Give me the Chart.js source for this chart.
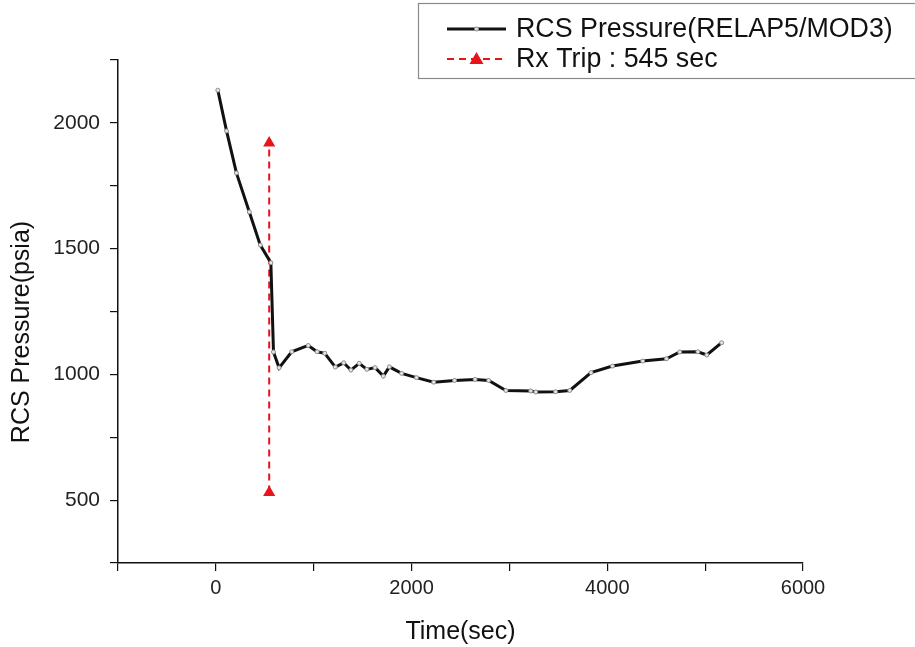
<!DOCTYPE html>
<html>
<head>
<meta charset="utf-8">
<script src="https://cdn.jsdelivr.net/npm/chart.js@4/dist/chart.umd.min.js"></script>
<style>
html,body{margin:0;padding:0;background:#fff;}
#wrap{width:915px;height:647px;position:relative;}
</style>
</head>
<body>
<div id="wrap"><canvas id="c" width="915" height="647"></canvas></div>
<script>
// Data
const timeSec = [20, 109, 210, 342, 454, 562, 589, 646, 775, 944, 1035, 1113, 1221, 1306, 1380, 1465, 1543, 1627, 1712, 1773, 1898, 2050, 2226, 2439, 2649, 2788, 2964, 3218, 3269, 3472, 3617, 3834, 4053, 4362, 4605, 4740, 4926, 5017, 5169];
const pressurePsia = [2130, 1968, 1801, 1646, 1514, 1444, 1089, 1026, 1090, 1115, 1090, 1084, 1029, 1046, 1017, 1044, 1020, 1027, 993, 1030, 1004, 987, 969, 976, 980, 976, 936, 934, 930, 931, 936, 1007, 1033, 1053, 1062, 1089, 1090, 1077, 1126];
const tripTime = [545, 545];
const tripPressure = [530, 1920];
const seriesLabels = ["RCS Pressure(RELAP5/MOD3)", "Rx Trip : 545 sec"];
const xTickLabels = [0, 2000, 4000, 6000];
const yTickLabels = [500, 1000, 1500, 2000];
const xTitle = 'Time(sec)';
const yTitle = 'RCS Pressure(psia)';

const FONT = '"Liberation Sans", Arial, sans-serif';

const rcsData = timeSec.map((t, i) => ({x: t, y: pressurePsia[i]}));
const tripData = tripTime.map((t, i) => ({x: t, y: tripPressure[i]}));

const legendPlugin = {
  id: 'boxLegend',
  afterDraw(chart) {
    const ctx = chart.ctx;
    const ds = chart.data.datasets;
    ctx.save();
    // y-axis title
    ctx.fillStyle = '#111';
    ctx.font = '25px ' + FONT;
    ctx.textAlign = 'center';
    ctx.textBaseline = 'middle';
    ctx.translate(22, 332);
    ctx.rotate(-Math.PI / 2);
    ctx.fillText(yTitle, 0, 0);
    ctx.restore();

    ctx.save();
    ctx.fillStyle = '#fff';
    ctx.fillRect(418, 3, 520, 75);
    ctx.strokeStyle = '#8a8a8a';
    ctx.lineWidth = 1.2;
    ctx.strokeRect(418.5, 3.5, 520, 75);
    const rows = [29, 59];
    rows.forEach((cy, i) => {
      const d = ds[i];
      ctx.strokeStyle = d.borderColor;
      ctx.lineWidth = d.borderWidth;
      ctx.setLineDash(d.borderDash || []);
      ctx.beginPath();
      ctx.moveTo(447, cy);
      ctx.lineTo(506, cy);
      ctx.stroke();
      ctx.setLineDash([]);
      if (i === 0) {
        ctx.fillStyle = d.pointBackgroundColor;
        ctx.strokeStyle = d.pointBorderColor;
        ctx.lineWidth = 1;
        ctx.beginPath();
        ctx.arc(476.5, cy, 2, 0, Math.PI * 2);
        ctx.fill(); ctx.stroke();
      } else {
        ctx.fillStyle = d.pointBackgroundColor;
        ctx.beginPath();
        ctx.moveTo(476.5, cy - 7);
        ctx.lineTo(483.5, cy + 5);
        ctx.lineTo(469.5, cy + 5);
        ctx.closePath();
        ctx.fill();
      }
      ctx.fillStyle = '#111';
      ctx.font = '26.8px ' + FONT;
      ctx.textBaseline = 'middle';
      ctx.textAlign = 'left';
      ctx.fillText(d.label, 516, cy + 1);
    });
    ctx.restore();
  }
};

new Chart(document.getElementById('c'), {
  type: 'scatter',
  data: {
    datasets: [
      {
        label: seriesLabels[0],
        data: rcsData,
        showLine: true,
        borderColor: '#111',
        borderWidth: 3,
        pointRadius: 2,
        pointBackgroundColor: '#e6e6e6',
        pointBorderColor: '#8c8c8c',
        pointBorderWidth: 1,
        tension: 0
      },
      {
        label: seriesLabels[1],
        data: tripData,
        showLine: true,
        borderColor: '#e8141c',
        borderWidth: 2,
        borderDash: [7, 5],
        pointStyle: 'triangle',
        pointRadius: 7,
        pointBackgroundColor: '#e8141c',
        pointBorderColor: '#e8141c',
        pointBorderWidth: 0
      }
    ]
  },
  options: {
    responsive: false,
    animation: false,
    layout: {padding: {left: 0, right: 112, top: 60, bottom: 0}},
    plugins: {legend: {display: false}, tooltip: {enabled: false}},
    scales: {
      x: {
        type: 'linear',
        min: -1000,
        max: 6000,
        afterFit(s) { s.height = 84; },
        border: {display: true, color: '#111', width: 1.5},
        grid: {display: true, drawOnChartArea: false, drawTicks: true, tickLength: 8, color: '#111', lineWidth: 1.2},
        ticks: {
          stepSize: 1000,
          color: '#222',
          font: {family: FONT, size: 20},
          padding: 5,
          maxRotation: 0,
          autoSkip: false,
          callback: (v) => xTickLabels.includes(v) ? String(v) : ''
        },
        title: {display: true, text: xTitle, color: '#111', font: {family: FONT, size: 25}, padding: {top: 6, bottom: 0}}
      },
      y: {
        type: 'linear',
        min: 250,
        max: 2250,
        afterFit(s) { s.width = 118; },
        border: {display: true, color: '#111', width: 1.5},
        grid: {display: true, drawOnChartArea: false, drawTicks: true, tickLength: 8, color: '#111', lineWidth: 1.2},
        ticks: {
          stepSize: 250,
          color: '#222',
          font: {family: FONT, size: 21},
          padding: 10,
          autoSkip: false,
          callback: (v) => yTickLabels.includes(v) ? String(v) : ''
        },
        title: {display: false}
      }
    }
  },
  plugins: [legendPlugin]
});
</script>
</body>
</html>
